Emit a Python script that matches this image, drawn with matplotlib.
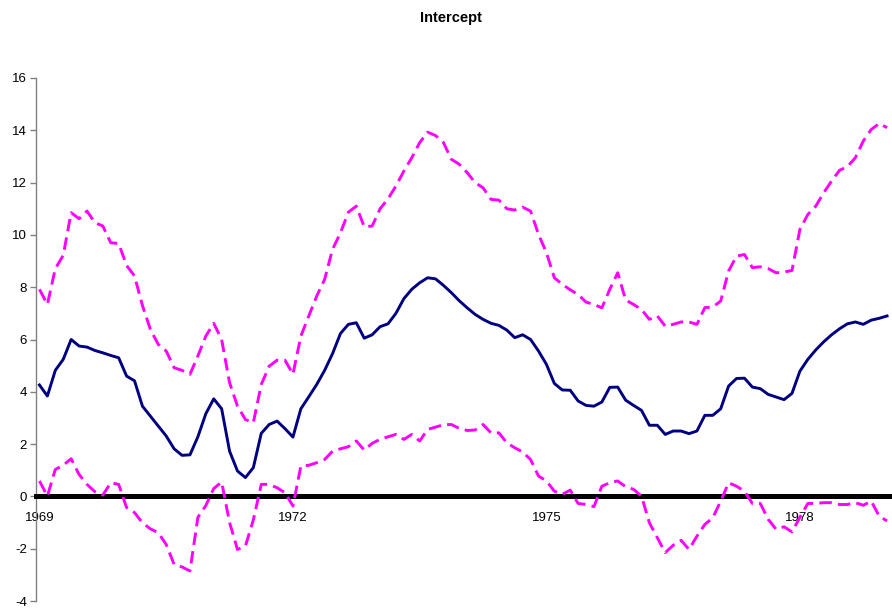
import numpy as np
import matplotlib
matplotlib.use('Agg')
import matplotlib.pyplot as plt

NAVY = '#000080'
MAGENTA = '#FF00FF'

# rolling intercept estimate with its upper / lower bands
mid = [4.26, 3.84, 4.82, 5.24, 6.00, 5.75, 5.71, 5.58, 5.49, 5.39, 5.30, 4.60, 4.42, 3.45,
       3.07, 2.69, 2.31, 1.82, 1.57, 1.59, 2.28, 3.16, 3.73, 3.35, 1.73, 0.97, 0.72,
       1.10, 2.41, 2.75, 2.88, 2.59, 2.27, 3.35, 3.81, 4.28, 4.82, 5.46, 6.23, 6.58, 6.64,
       6.05, 6.18, 6.49, 6.60, 7.00, 7.56, 7.92, 8.17, 8.36, 8.32, 8.07, 7.79, 7.48,
       7.21, 6.96, 6.77, 6.62, 6.54, 6.36, 6.07, 6.18, 6.00, 5.56, 5.05, 4.32, 4.07, 4.06,
       3.65, 3.48, 3.45, 3.61, 4.17, 4.18, 3.68, 3.48, 3.29, 2.72, 2.72, 2.37, 2.50,
       2.50, 2.40, 2.50, 3.10, 3.10, 3.35, 4.22, 4.51, 4.52, 4.18, 4.12, 3.90, 3.80, 3.70,
       3.94, 4.79, 5.24, 5.60, 5.91, 6.18, 6.41, 6.60, 6.67, 6.58, 6.74, 6.81, 6.90]

upper = [7.92, 7.34, 8.71, 9.22, 10.85, 10.62, 10.91, 10.47, 10.34, 9.70, 9.67, 8.83, 8.43, 7.30,
         6.39, 5.81, 5.56, 4.92, 4.82, 4.67, 5.37, 6.13, 6.62, 6.00, 4.35, 3.45, 2.94,
         2.82, 4.28, 4.98, 5.21, 5.21, 4.67, 6.13, 6.90, 7.66, 8.30, 9.45, 10.08, 10.87, 11.10,
         10.31, 10.34, 11.00, 11.38, 11.87, 12.44, 12.95, 13.53, 13.93, 13.80, 13.53, 12.89, 12.70,
         12.38, 12.00, 11.80, 11.36, 11.33, 11.00, 10.95, 11.06, 10.91, 10.02, 9.32, 8.36, 8.11, 7.90,
         7.72, 7.43, 7.34, 7.21, 7.92, 8.55, 7.51, 7.34, 7.15, 6.77, 6.90, 6.51, 6.58,
         6.67, 6.67, 6.58, 7.22, 7.24, 7.47, 8.62, 9.19, 9.25, 8.75, 8.78, 8.71, 8.55, 8.58,
         8.64, 10.21, 10.78, 11.10, 11.61, 12.06, 12.47, 12.61, 12.95, 13.59, 14.03, 14.26, 14.10]

lower = [0.59, 0.01, 1.03, 1.19, 1.44, 0.84, 0.46, 0.18, 0.05, 0.52, 0.46, -0.43, -0.62, -1.01,
         -1.24, -1.39, -1.84, -2.60, -2.70, -2.85, -0.80, -0.35, 0.30, 0.55, -1.00, -2.03, -1.90,
         -0.90, 0.46, 0.46, 0.33, 0.14, -0.37, 1.16, 1.19, 1.29, 1.41, 1.73, 1.82, 1.90, 2.12,
         1.77, 2.03, 2.18, 2.28, 2.37, 2.18, 2.37, 2.12, 2.56, 2.65, 2.74, 2.75, 2.60,
         2.52, 2.54, 2.75, 2.43, 2.43, 2.05, 1.86, 1.70, 1.41, 0.78, 0.59, 0.20, 0.08, 0.24,
         -0.27, -0.31, -0.39, 0.39, 0.52, 0.59, 0.37, 0.27, 0.01, -1.01, -1.58, -2.15, -1.87,
         -1.68, -2.03, -1.52, -1.07, -0.82, -0.18, 0.52, 0.39, 0.20, -0.27, -0.27, -0.88, -1.26, -1.16,
         -1.36, -0.80, -0.27, -0.27, -0.24, -0.24, -0.31, -0.31, -0.24, -0.34, -0.18, -0.75, -0.94]

year_labels = ['1969', '1972', '1975', '1978']
label_every = 32   # one year label per 32 observations

plt.rcParams['font.family'] = ['Liberation Sans', 'DejaVu Sans']
plt.rcParams['lines.scale_dashes'] = False
plt.rcParams['axes.unicode_minus'] = False

x = np.arange(len(mid))

fig = plt.figure(figsize=(8.92, 6.11), dpi=100)
ax = fig.add_axes([35.5 / 892, 10 / 611, 855.5 / 892, 523 / 611])

ax.plot(x, mid, color=NAVY, lw=2.1, zorder=3)
ax.plot(x, upper, color=MAGENTA, lw=2.1, dashes=(9, 4.5), zorder=3)
ax.plot(x, lower, color=MAGENTA, lw=2.1, dashes=(9, 4.5), zorder=3)

ax.set_xlim(-0.5, len(mid) - 0.5)
ax.set_ylim(-4, 16)
ax.set_yticks(range(-4, 17, 2))
ax.set_xticks(np.arange(len(year_labels)) * label_every)
ax.set_xticklabels(year_labels)

for side in ('top', 'right'):
    ax.spines[side].set_visible(False)
ax.spines['bottom'].set_position(('data', 0))
ax.spines['bottom'].set_linewidth(3.6)
ax.spines['bottom'].set_color('black')
ax.spines['left'].set_color('#808080')
ax.spines['left'].set_linewidth(1.0)

ax.tick_params(axis='x', length=0, pad=11.5, labelsize=9.5)
ax.tick_params(axis='y', length=4, width=1, color='#808080', direction='out',
               pad=2, labelsize=9.5)

fig.text(451 / 892, 1 - 18 / 611, 'Intercept', ha='center', va='center',
         fontsize=10.5, fontweight='bold')

fig.savefig('out.png', dpi=100, facecolor='white')
